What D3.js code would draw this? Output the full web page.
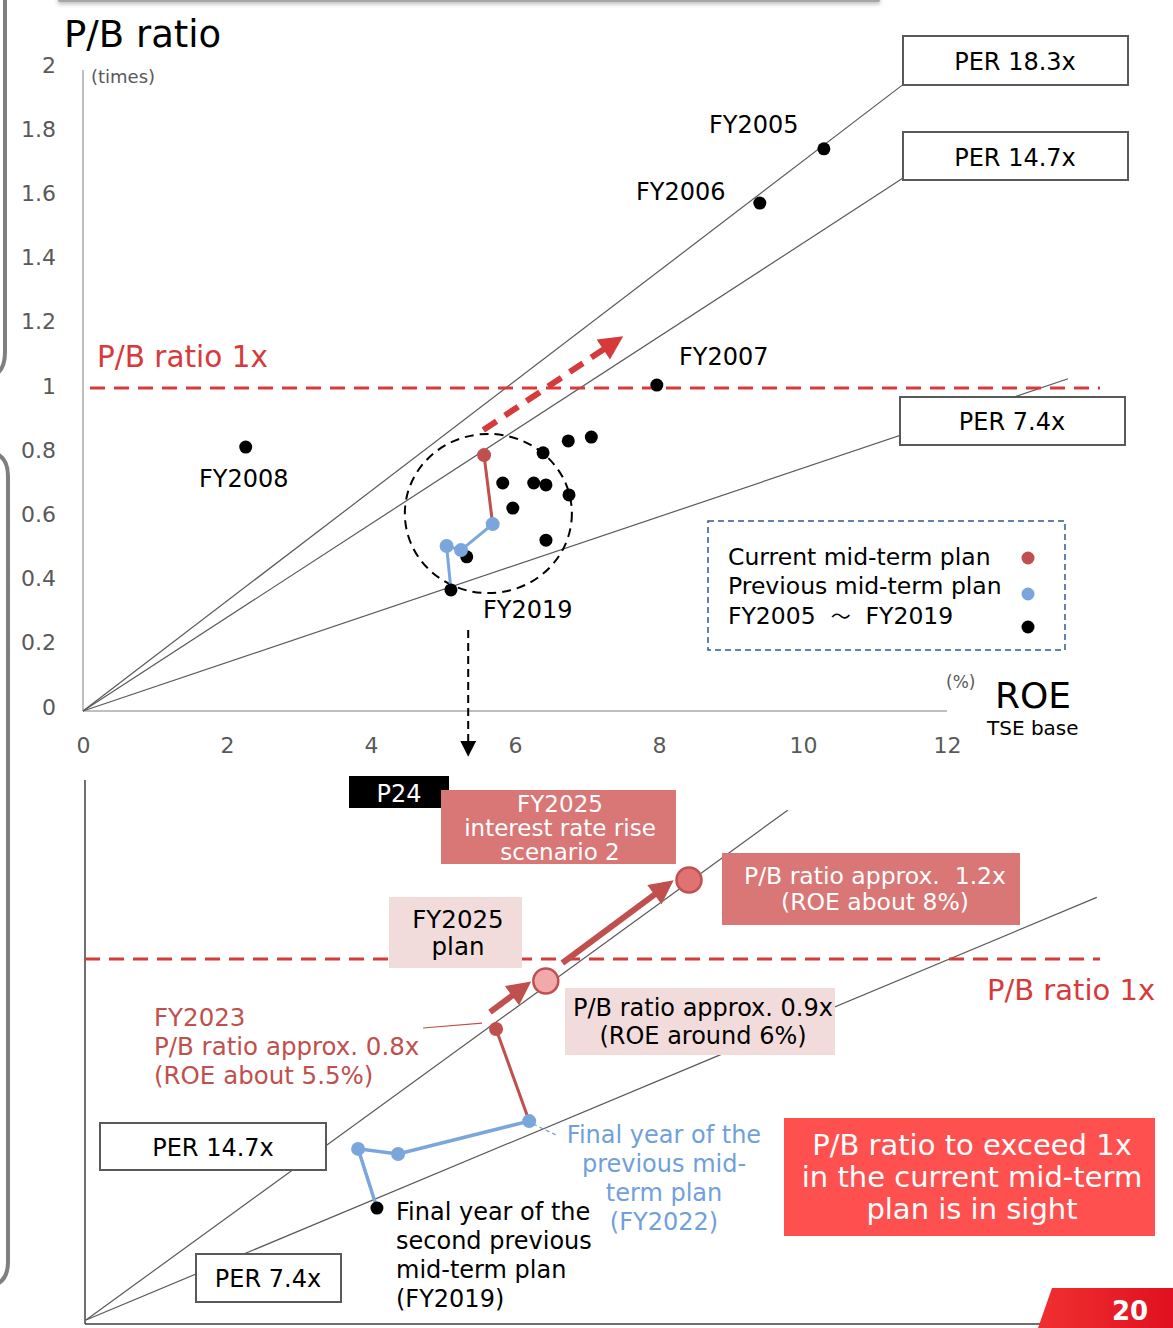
<!DOCTYPE html>
<html><head><meta charset="utf-8">
<script src="https://cdn.jsdelivr.net/npm/d3@7"></script>
<style>
body{margin:0;background:#fff}
svg{display:block;font-family:"DejaVu Sans",Verdana,sans-serif}
text{white-space:pre}
</style>
</head><body>
<svg id="c" width="1173" height="1328"></svg>
<script>
// ---------------- DATA ----------------
const yTicks = [0, 0.2, 0.4, 0.6, 0.8, 1, 1.2, 1.4, 1.6, 1.8, 2];
const xTicks = [0, 2, 4, 6, 8, 10, 12];

// FY2005 ~ FY2019 (ROE %, P/B ratio)
const histYears = ["FY2005","FY2006","FY2007","FY2008","FY2009","FY2010","FY2011","FY2012","FY2013","FY2014","FY2015","FY2016","FY2017","FY2018","FY2019"];
const histRoe = [10.29, 9.40, 7.97, 2.26, 6.39, 6.74, 7.06, 5.83, 6.26, 6.43, 6.75, 5.97, 6.43, 5.33, 5.11];
const histPbr = [1.745, 1.576, 1.009, 0.816, 0.798, 0.835, 0.847, 0.704, 0.704, 0.698, 0.667, 0.626, 0.526, 0.474, 0.371];
const labeledYears = ["FY2005","FY2006","FY2007","FY2008","FY2019"];

// Previous mid-term plan (top chart)
const prevRoe = [5.05, 5.25, 5.69];
const prevPbr = [0.508, 0.495, 0.576];
// Current mid-term plan (top chart)
const currRoe = [5.57];
const currPbr = [0.791];

// PER reference lines (top chart)
const perLabels = ["PER 18.3x", "PER 14.7x", "PER 7.4x"];
const perSlopeTop = [0.1708, 0.1452, 0.0752];
const perEndRoeTop = [11.42, 11.39, 13.68];

// Bottom (enlarged) chart
const bPerLabels = ["PER 14.7x", "PER 7.4x"];
const bPerSlope = [0.1517, 0.0873];
const bPerEndRoe = [9.31, 13.41];
const bFY2019 = [3.86, 0.310];
const bPrevRoe = [3.61, 4.14, 5.88];
const bPrevPbr = [0.474, 0.460, 0.551];
const bFY2023 = [5.44, 0.806];
const bPlan = [6.10, 0.939];
const bScenario2 = [8.0, 1.219];

// ---------------- COLOURS ----------------
const RED = "#c0504d", BLUE = "#7aa6dc", DASHRED = "#d63a3a", GRAY = "#595959";

const svg = d3.select("#c");
const defs = svg.append("defs");
function marker(id, color, w, h) {
  defs.append("marker").attr("id", id).attr("viewBox", "0 0 10 10")
    .attr("refX", 7).attr("refY", 5).attr("markerUnits", "userSpaceOnUse")
    .attr("markerWidth", w).attr("markerHeight", h).attr("orient", "auto")
    .append("path").attr("d", "M0,0 L10,5 L0,10 z").attr("fill", color);
}
marker("arRed", RED, 26, 24);
marker("arRedDash", DASHRED, 28, 24);
marker("arBlack", "#000", 16, 16);
const sh = defs.append("filter").attr("id", "sh").attr("x", "-5%").attr("y", "-100%").attr("width", "110%").attr("height", "400%");
sh.append("feGaussianBlur").attr("stdDeviation", 2);

function text(g, x, y, str, o = {}) {
  return g.append("text").attr("x", x).attr("y", y).attr("dy", "0.36em")
    .attr("font-size", o.size || 24).attr("fill", o.fill || "#000")
    .attr("text-anchor", o.anchor || "start")
    .attr("font-weight", o.weight || "normal").text(str);
}
function lines(g, x, ys, strs, o) { strs.forEach((s, i) => text(g, x, ys[i], s, o)); }

// ---------------- PAGE DECORATIONS ----------------
svg.append("rect").attr("x", 58).attr("y", -2).attr("width", 822).attr("height", 6).attr("fill", "#bbb").attr("filter", "url(#sh)");
svg.append("rect").attr("x", 58).attr("y", -2).attr("width", 822).attr("height", 4).attr("rx", 2).attr("fill", "#a6a6a6");
svg.append("path").attr("d", "M5,-2 L5,352 Q5,372 -8,376").attr("fill", "none").attr("stroke", "#7f7f7f").attr("stroke-width", 4);
svg.append("path").attr("d", "M-8,452 Q8,456 8,476 L8,1262 Q8,1282 -8,1286").attr("fill", "none").attr("stroke", "#7f7f7f").attr("stroke-width", 4);

// ---------------- TOP CHART ----------------
const x = d3.scaleLinear().domain([0, 12]).range([83, 947]);
const y = d3.scaleLinear().domain([0, 2]).range([709, 67]);
const gTop = svg.append("g");

// axes
gTop.append("line").attr("x1", x(0)).attr("x2", x(0)).attr("y1", 70).attr("y2", 711).attr("stroke", "#bfbfbf").attr("stroke-width", 2);
gTop.append("line").attr("x1", x(0)).attr("x2", x(12)).attr("y1", 711).attr("y2", 711).attr("stroke", "#bfbfbf").attr("stroke-width", 2);
const ya = gTop.append("g").attr("transform", `translate(${x(0)},-2)`)
  .call(d3.axisLeft(y).tickValues(yTicks).tickSize(0).tickPadding(27).tickFormat(d3.format("~g")));
ya.select(".domain").remove();
ya.selectAll("text").attr("font-size", 22).attr("fill", GRAY).attr("font-family", "DejaVu Sans");
const xa = gTop.append("g").attr("transform", `translate(0,737)`)
  .call(d3.axisBottom(x).tickValues(xTicks).tickSize(0).tickPadding(0).tickFormat(d3.format("~g")));
xa.select(".domain").remove();
xa.selectAll("text").attr("font-size", 22).attr("fill", GRAY).attr("font-family", "DejaVu Sans");

text(gTop, 64, 34, "P/B ratio", { size: 37 });
text(gTop, 91, 77, "(times)", { size: 18, fill: GRAY });
text(gTop, 946, 682, "(%)", { size: 17, fill: GRAY });
text(gTop, 995, 695, "ROE", { size: 36 });
text(gTop, 987, 728, "TSE base", { size: 20 });

// PER lines
perSlopeTop.forEach((s, i) => {
  gTop.append("line").attr("x1", x(0)).attr("y1", 711)
    .attr("x2", x(perEndRoeTop[i])).attr("y2", y(perEndRoeTop[i] * s))
    .attr("stroke", "#595959").attr("stroke-width", 1.2);
});

// P/B 1x line
gTop.append("line").attr("x1", 90).attr("x2", 1100).attr("y1", y(1)).attr("y2", y(1))
  .attr("stroke", DASHRED).attr("stroke-width", 3).attr("stroke-dasharray", "15,9");
text(gTop, 97, 356, "P/B ratio 1x", { size: 29.5, fill: DASHRED });

// PER boxes
const perBoxes = [[903, 36, 225, 49, 1015, 61], [903, 132, 225, 48, 1015, 157], [900, 397, 225, 48, 1012, 421]];
perBoxes.forEach((b, i) => {
  gTop.append("rect").attr("x", b[0]).attr("y", b[1]).attr("width", b[2]).attr("height", b[3])
    .attr("fill", "#fff").attr("stroke", "#595959").attr("stroke-width", 2);
  text(gTop, b[4], b[5], perLabels[i], { anchor: "middle" });
});

// dashed circle
gTop.append("ellipse").attr("cx", x(5.63)).attr("cy", y(0.609))
  .attr("rx", x(5.63 + 1.16) - x(5.63)).attr("ry", y(0) - y(0.248))
  .attr("fill", "none").attr("stroke", "#000").attr("stroke-width", 2).attr("stroke-dasharray", "9,6");

// dashed arrow
gTop.append("line").attr("x1", x(5.56)).attr("y1", y(0.869)).attr("x2", x(7.42)).attr("y2", y(1.149))
  .attr("stroke", DASHRED).attr("stroke-width", 6).attr("stroke-dasharray", "16,10")
  .attr("marker-end", "url(#arRedDash)");

// historic points
const hist = histYears.map((yr, i) => ({ yr, roe: histRoe[i], pbr: histPbr[i] }));
const pathPts = [[histRoe[14], histPbr[14]]].concat(prevRoe.map((r, i) => [r, prevPbr[i]]));
const ln = d3.line().x(d => x(d[0])).y(d => y(d[1]));
gTop.append("path").attr("d", ln([[prevRoe[2], prevPbr[2]], [currRoe[0], currPbr[0]]]))
  .attr("fill", "none").attr("stroke", RED).attr("stroke-width", 3);
gTop.append("path").attr("d", ln(pathPts)).attr("fill", "none").attr("stroke", BLUE).attr("stroke-width", 3);
gTop.selectAll(".h").data(hist).enter().append("circle")
  .attr("cx", d => x(d.roe)).attr("cy", d => y(d.pbr)).attr("r", 6.5).attr("fill", "#000");
gTop.selectAll(".p").data(prevRoe).enter().append("circle")
  .attr("cx", d => x(d)).attr("cy", (d, i) => y(prevPbr[i])).attr("r", 7).attr("fill", BLUE);
gTop.selectAll(".cu").data(currRoe).enter().append("circle")
  .attr("cx", d => x(d)).attr("cy", (d, i) => y(currPbr[i])).attr("r", 7).attr("fill", RED);

const labelPos = { FY2005: [709, 124], FY2006: [636, 191], FY2007: [679, 356], FY2008: [199, 478], FY2019: [483, 609] };
labeledYears.forEach(yr => text(gTop, labelPos[yr][0], labelPos[yr][1], yr));

// legend
gTop.append("rect").attr("x", 708).attr("y", 521).attr("width", 357).attr("height", 129)
  .attr("fill", "#fff").attr("stroke", "#2f5a94").attr("stroke-width", 1.5).attr("stroke-dasharray", "6,4");
const legItems = [["Current mid-term plan", RED, 557, 558], ["Previous mid-term plan", BLUE, 586, 594], ["FY2005  ～  FY2019", "#000", 616, 627]];
legItems.forEach((l, i) => {
  const t = text(gTop, 728, l[2], "", { size: 23.5 });
  if (l[0].includes("～")) {
    const parts = l[0].split("～");
    t.append("tspan").text(parts[0]);
    t.append("tspan").attr("font-family", "Noto Sans CJK JP").attr("font-size", 20).text("～");
    t.append("tspan").text(parts[1]);
  } else t.text(l[0]);
  gTop.append("circle").attr("cx", 1028).attr("cy", l[3]).attr("r", 6.5).attr("fill", l[1]);
});

// connecting arrow
svg.append("line").attr("x1", x(5.35)).attr("x2", x(5.35)).attr("y1", 630).attr("y2", 752)
  .attr("stroke", "#000").attr("stroke-width", 2).attr("stroke-dasharray", "8,5").attr("marker-end", "url(#arBlack)");

// ---------------- BOTTOM CHART ----------------
const xb = d3.scaleLinear().domain([0, 8]).range([86, 689]);
const yb = d3.scaleLinear().domain([0, 1]).range([1320, 959]);
const bot = svg.append("g");

bot.append("line").attr("x1", 85).attr("x2", 85).attr("y1", 780).attr("y2", 1324).attr("stroke", "#404040").attr("stroke-width", 1.5);
bot.append("line").attr("x1", 85).attr("x2", 1045).attr("y1", 1324).attr("y2", 1324).attr("stroke", "#404040").attr("stroke-width", 1.5);

bPerSlope.forEach((s, i) => {
  bot.append("line").attr("x1", xb(0)).attr("y1", yb(0))
    .attr("x2", xb(bPerEndRoe[i])).attr("y2", yb(bPerEndRoe[i] * s))
    .attr("stroke", "#595959").attr("stroke-width", 1.2);
});

// P/B 1x dashed
bot.append("line").attr("x1", 85).attr("x2", 1100).attr("y1", yb(1)).attr("y2", yb(1))
  .attr("stroke", DASHRED).attr("stroke-width", 3).attr("stroke-dasharray", "15,9");
text(bot, 987, 990, "P/B ratio 1x", { size: 29, fill: DASHRED });

// boxes
bot.append("rect").attr("x", 349).attr("y", 776).attr("width", 100).attr("height", 32).attr("fill", "#000");
text(bot, 399, 793, "P24", { size: 24, fill: "#fff", anchor: "middle" });
bot.append("rect").attr("x", 441).attr("y", 790).attr("width", 235).attr("height", 74).attr("fill", "#d97676");
lines(bot, 560, [804, 828, 852], ["FY2025", "interest rate rise", "scenario 2"], { size: 23, fill: "#fff", anchor: "middle" });
bot.append("rect").attr("x", 389).attr("y", 897).attr("width", 133).attr("height", 71).attr("fill", "#f2dcdb");
lines(bot, 458, [919, 946], ["FY2025", "plan"], { size: 24.5, anchor: "middle" });
bot.append("rect").attr("x", 722).attr("y", 853).attr("width", 298).attr("height", 72).attr("fill", "#d97676");
lines(bot, 875, [876, 902], ["P/B ratio approx.  1.2x", "(ROE about 8%)"], { size: 23.5, fill: "#fff", anchor: "middle" });
bot.append("rect").attr("x", 565).attr("y", 988).attr("width", 270).attr("height", 67).attr("fill", "#f2dcdb");
lines(bot, 703, [1007, 1035], ["P/B ratio approx. 0.9x", "(ROE around 6%)"], { size: 24, anchor: "middle" });

// PER boxes bottom
[[100, 1123, 226, 47, 213, 1147], [196, 1254, 145, 48, 268, 1278]].forEach((b, i) => {
  bot.append("rect").attr("x", b[0]).attr("y", b[1]).attr("width", b[2]).attr("height", b[3])
    .attr("fill", "#fff").attr("stroke", "#595959").attr("stroke-width", 2);
  text(bot, b[4], b[5], bPerLabels[i], { anchor: "middle" });
});

// leader lines
bot.append("line").attr("x1", 423).attr("y1", 1028).attr("x2", xb(bFY2023[0]) - 14).attr("y2", yb(bFY2023[1]) - 6)
  .attr("stroke", RED).attr("stroke-width", 1.2);
bot.append("line").attr("x1", xb(bPrevRoe[2]) + 4).attr("y1", yb(bPrevPbr[2]) + 3).attr("x2", 556).attr("y2", 1135)
  .attr("stroke", BLUE).attr("stroke-width", 1.2).attr("stroke-dasharray", "4,3");

// paths
const lnb = d3.line().x(d => xb(d[0])).y(d => yb(d[1]));
const bPath = [bFY2019].concat(bPrevRoe.map((r, i) => [r, bPrevPbr[i]]));
bot.append("path").attr("d", lnb([[bPrevRoe[2], bPrevPbr[2]], bFY2023])).attr("fill", "none").attr("stroke", RED).attr("stroke-width", 3);
bot.append("path").attr("d", lnb(bPath)).attr("fill", "none").attr("stroke", BLUE).attr("stroke-width", 3.5);

// arrows
bot.append("line").attr("x1", xb(5.36)).attr("y1", yb(0.853)).attr("x2", xb(5.83)).attr("y2", yb(0.926))
  .attr("stroke", RED).attr("stroke-width", 6).attr("marker-end", "url(#arRed)");
bot.append("line").attr("x1", xb(6.32)).attr("y1", yb(0.989)).attr("x2", xb(7.72)).attr("y2", yb(1.206))
  .attr("stroke", RED).attr("stroke-width", 6).attr("marker-end", "url(#arRed)");

// points
bot.append("circle").attr("cx", xb(bFY2019[0])).attr("cy", yb(bFY2019[1])).attr("r", 6.5).attr("fill", "#000");
bot.selectAll(".bp").data(bPrevRoe).enter().append("circle")
  .attr("cx", d => xb(d)).attr("cy", (d, i) => yb(bPrevPbr[i])).attr("r", 7).attr("fill", BLUE);
bot.append("circle").attr("cx", xb(bFY2023[0])).attr("cy", yb(bFY2023[1])).attr("r", 7).attr("fill", RED);
bot.append("circle").attr("cx", xb(bPlan[0])).attr("cy", yb(bPlan[1])).attr("r", 12.5)
  .attr("fill", "#f2a9a9").attr("stroke", RED).attr("stroke-width", 2.5);
bot.append("circle").attr("cx", xb(bScenario2[0])).attr("cy", yb(bScenario2[1])).attr("r", 12.5)
  .attr("fill", "#df7272").attr("stroke", RED).attr("stroke-width", 2.5);

// texts
lines(bot, 154, [1017, 1046, 1075], ["FY2023", "P/B ratio approx. 0.8x", "(ROE about 5.5%)"], { size: 24.5, fill: RED });
lines(bot, 396, [1211, 1240, 1269, 1298], ["Final year of the", "second previous", "mid-term plan", "(FY2019)"], { size: 24 });
lines(bot, 664, [1134, 1163, 1192, 1221], ["Final year of the", "previous mid-", "term plan", "(FY2022)"], { size: 24, fill: "#6fa0dc", anchor: "middle" });

bot.append("rect").attr("x", 784).attr("y", 1118).attr("width", 371).attr("height", 118).attr("fill", "#ff5050");
lines(bot, 972, [1145, 1177, 1209], ["P/B ratio to exceed 1x", "in the current mid-term", "plan is in sight"], { size: 29, fill: "#fff", anchor: "middle" });

// page number tab
const grad = defs.append("linearGradient").attr("id", "tab").attr("x1", 0).attr("x2", 1);
grad.append("stop").attr("offset", 0).attr("stop-color", "#f03030");
grad.append("stop").attr("offset", 1).attr("stop-color", "#e01020");
svg.append("path").attr("d", "M1052,1288 L1173,1288 L1173,1328 L1038,1328 Z").attr("fill", "url(#tab)");
text(svg, 1130, 1311, "20", { size: 26, fill: "#fff", anchor: "middle", weight: "bold" });
</script>
</body></html>
